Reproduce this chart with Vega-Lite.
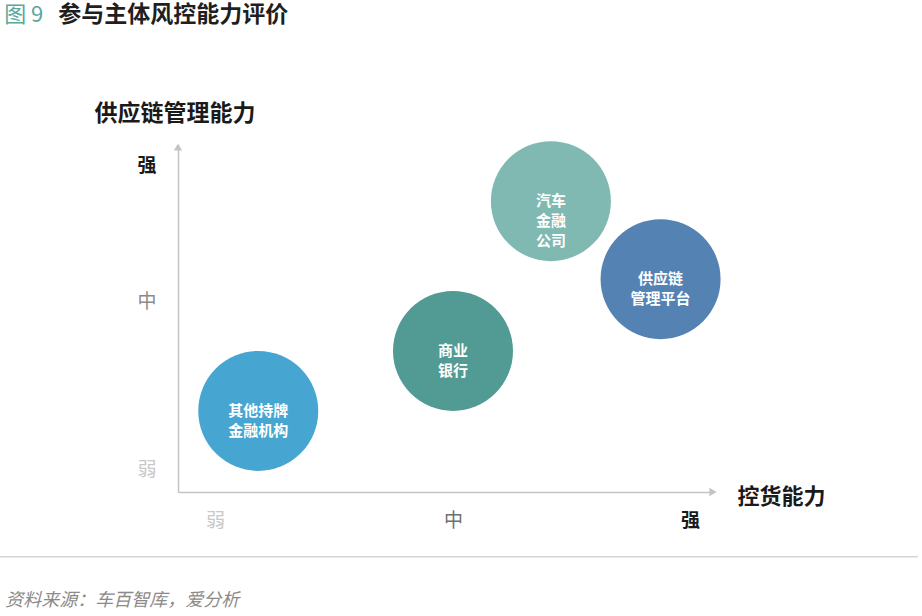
{
  "$schema": "https://vega.github.io/schema/vega-lite/v6.json",
  "width": 535,
  "height": 345,
  "autosize": "none",
  "padding": {"left": 178, "top": 147, "right": 209, "bottom": 124},
  "background": "white",
  "datasets": {
    "players": [
      {"name": "其他持牌\n金融机构", "control": 1.50, "supply": 2.35},
      {"name": "商业\n银行", "control": 5.14, "supply": 4.09},
      {"name": "汽车\n金融\n公司", "control": 6.97, "supply": 8.43},
      {"name": "供应链\n管理平台", "control": 9.02, "supply": 6.17}
    ],
    "one": [{}]
  },
  "layer": [
    {
      "data": {"name": "players"},
      "mark": {"type": "point", "filled": true, "size": 14400, "opacity": 1, "strokeWidth": 0},
      "encoding": {
        "x": {
          "field": "control", "type": "quantitative",
          "scale": {"domain": [0, 10], "nice": false, "zero": false},
          "axis": {
            "orient": "bottom",
            "values": [0.69, 5.14, 9.57],
            "labelExpr": "datum.value < 2 ? '弱' : datum.value < 7 ? '中' : '强'",
            "labelColor": {"expr": "datum.value < 2 ? '#c8c8c8' : datum.value < 7 ? '#6f6f6f' : '#1a1a1a'"},
            "labelFontWeight": {"expr": "datum.value > 7 ? 'bold' : 'normal'"},
            "labelFontSize": 19,
            "labelPadding": 19,
            "ticks": false,
            "grid": false,
            "domainColor": "#c4c4c4",
            "domainWidth": 1.5,
            "title": "控货能力",
            "titleX": 559,
            "titleY": 4,
            "titleAlign": "left",
            "titleBaseline": "middle",
            "titleFontSize": 22,
            "titleFontWeight": "bold",
            "titleColor": "#1a1a1a"
          }
        },
        "y": {
          "field": "supply", "type": "quantitative",
          "scale": {"domain": [0, 10], "nice": false, "zero": false},
          "axis": {
            "orient": "left",
            "values": [0.64, 5.51, 9.45],
            "labelExpr": "datum.value < 2 ? '弱' : datum.value < 7 ? '中' : '强'",
            "labelColor": {"expr": "datum.value < 2 ? '#c8c8c8' : datum.value < 7 ? '#8a8a8a' : '#1a1a1a'"},
            "labelFontWeight": {"expr": "datum.value > 7 ? 'bold' : 'normal'"},
            "labelFontSize": 19,
            "labelPadding": 22,
            "labelBaseline": "middle",
            "ticks": false,
            "grid": false,
            "domainColor": "#c4c4c4",
            "domainWidth": 1.5,
            "title": "供应链管理能力",
            "titleAngle": 0,
            "titleX": -84,
            "titleY": -34,
            "titleAlign": "left",
            "titleBaseline": "middle",
            "titleFontSize": 23,
            "titleFontWeight": "bold",
            "titleColor": "#1a1a1a"
          }
        },
        "color": {
          "field": "name", "type": "nominal",
          "scale": {
            "domain": ["其他持牌\n金融机构", "商业\n银行", "汽车\n金融\n公司", "供应链\n管理平台"],
            "range": ["#46a6d1", "#529b94", "#7fb9b2", "#5482b3"]
          },
          "legend": null
        }
      }
    },
    {
      "data": {"name": "players"},
      "mark": {"type": "text", "color": "white", "fontSize": 15, "fontWeight": "bold", "lineBreak": "\n", "lineHeight": 20, "baseline": "middle", "align": "center"},
      "encoding": {
        "x": {"field": "control", "type": "quantitative", "scale": {"domain": [0, 10], "nice": false, "zero": false}},
        "y": {"field": "supply", "type": "quantitative", "scale": {"domain": [0, 10], "nice": false, "zero": false}},
        "text": {"field": "name"}
      }
    },
    {
      "data": {"name": "one"},
      "mark": {"type": "rule", "color": "#d6d6d6", "strokeWidth": 1.5},
      "encoding": {
        "x": {"datum": -3.33, "type": "quantitative", "scale": {"domain": [0, 10], "nice": false, "zero": false}},
        "x2": {"datum": 13.83},
        "y": {"datum": -1.88, "type": "quantitative", "scale": {"domain": [0, 10], "nice": false, "zero": false}}
      }
    },
    {
      "data": {"name": "one"},
      "mark": {"type": "text", "align": "left", "baseline": "middle", "fontSize": 22, "color": "#5aa79e"},
      "encoding": {
        "x": {"datum": -3.25, "type": "quantitative", "scale": {"domain": [0, 10], "nice": false, "zero": false}},
        "y": {"datum": 13.83, "type": "quantitative", "scale": {"domain": [0, 10], "nice": false, "zero": false}},
        "text": {"value": "图 9"}
      }
    },
    {
      "data": {"name": "one"},
      "mark": {"type": "text", "align": "left", "baseline": "middle", "fontSize": 23, "fontWeight": "bold", "color": "#1f1f1f"},
      "encoding": {
        "x": {"datum": -2.24, "type": "quantitative", "scale": {"domain": [0, 10], "nice": false, "zero": false}},
        "y": {"datum": 13.83, "type": "quantitative", "scale": {"domain": [0, 10], "nice": false, "zero": false}},
        "text": {"value": "参与主体风控能力评价"}
      }
    },
    {
      "data": {"name": "one"},
      "mark": {"type": "text", "align": "left", "baseline": "middle", "fontSize": 18, "fontStyle": "italic", "color": "#8a8a8a"},
      "encoding": {
        "x": {"datum": -3.23, "type": "quantitative", "scale": {"domain": [0, 10], "nice": false, "zero": false}},
        "y": {"datum": -3.16, "type": "quantitative", "scale": {"domain": [0, 10], "nice": false, "zero": false}},
        "text": {"value": "资料来源：车百智库，爱分析"}
      }
    },
    {
      "data": {"name": "one"},
      "mark": {"type": "point", "shape": "triangle-up", "filled": true, "size": 70, "color": "#c4c4c4", "opacity": 1},
      "encoding": {
        "x": {"datum": 0, "type": "quantitative", "scale": {"domain": [0, 10], "nice": false, "zero": false}},
        "y": {"datum": 10, "type": "quantitative", "scale": {"domain": [0, 10], "nice": false, "zero": false}}
      }
    },
    {
      "data": {"name": "one"},
      "mark": {"type": "point", "shape": "triangle-right", "filled": true, "size": 70, "color": "#c4c4c4", "opacity": 1},
      "encoding": {
        "x": {"datum": 10, "type": "quantitative", "scale": {"domain": [0, 10], "nice": false, "zero": false}},
        "y": {"datum": 0, "type": "quantitative", "scale": {"domain": [0, 10], "nice": false, "zero": false}}
      }
    }
  ],
  "config": {
    "view": {"stroke": null},
    "font": "Noto Sans CJK SC",
    "axis": {"labelFont": "Noto Sans CJK SC", "titleFont": "Noto Sans CJK SC"},
    "text": {"font": "Noto Sans CJK SC"}
  }
}
